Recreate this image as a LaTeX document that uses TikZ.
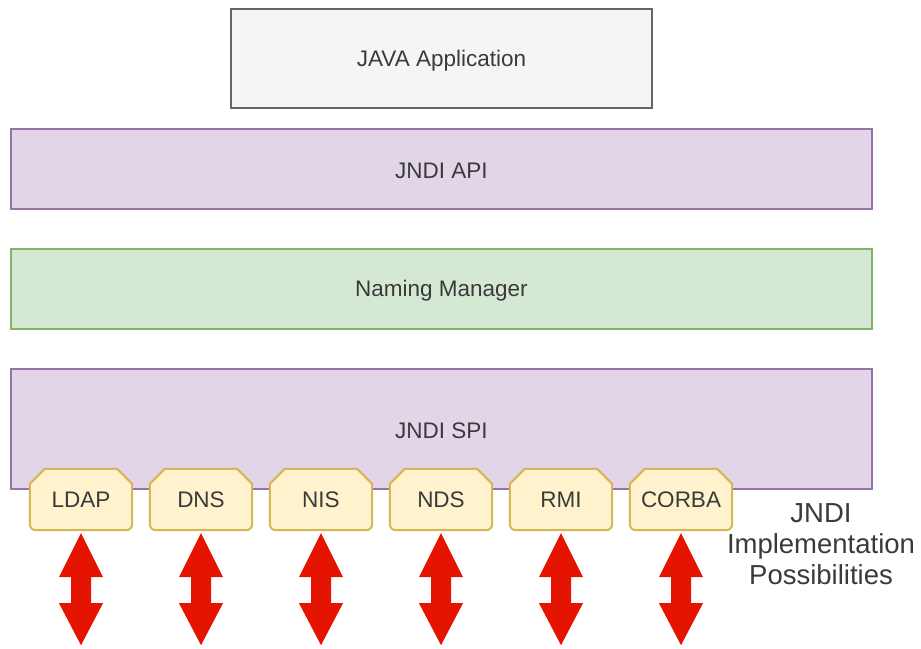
\documentclass[tikz,border=0pt]{standalone}
\usepackage{fontspec}
\setmainfont{Liberation Sans}
\usetikzlibrary{calc}
\definecolor{javaf}{HTML}{F5F5F5}
\definecolor{javad}{HTML}{666666}
\definecolor{purf}{HTML}{E1D5E7}
\definecolor{purd}{HTML}{9673A6}
\definecolor{grnf}{HTML}{D5E8D4}
\definecolor{grnd}{HTML}{82B366}
\definecolor{tabf}{HTML}{FFF2CC}
\definecolor{tabd}{HTML}{D6B656}
\definecolor{arrred}{HTML}{E51400}
\definecolor{txt}{HTML}{3A3A3A}
\tikzset{
  layer/.style={draw, line width=1.2pt, inner sep=0pt, text=txt, font=\fontsize{22.5}{26}\selectfont},
  tabbox/.style={inner sep=0pt, minimum width=102pt, minimum height=61pt, text=txt, font=\fontsize{22.5}{26}\selectfont},
  tabline/.style={draw=tabd, fill=tabf, line width=2pt},
  dblarrow/.style={fill=arrred},
  lbltext/.style={text=txt, yshift=-2pt},
}
\begin{document}
\begin{tikzpicture}[x=1pt,y=-1pt]
\useasboundingbox (0,0) rectangle (921,648);
\node[layer, fill=javaf, draw=javad, minimum width=421pt, minimum height=99pt] (java) at (441.5,58.5) {};
\node[layer, fill=purf, draw=purd, minimum width=861pt, minimum height=80pt] (api) at (441.5,169) {};
\node[layer, fill=grnf, draw=grnd, minimum width=861pt, minimum height=80pt] (nm) at (441.5,289) {};
\node[layer, fill=purf, draw=purd, minimum width=861pt, minimum height=120pt] (spi) at (441.5,429) {};
\node[layer, draw=none, lbltext] (javat) at (java.center) {JAVA Application};
\node[layer, draw=none, lbltext] (apit) at (api.center) {JNDI API};
\node[layer, draw=none, lbltext] (nmt) at (nm.center) {Naming Manager};
\node[layer, draw=none, lbltext] (spit) at (spi.center) {JNDI SPI};
\foreach \i/\t in {0/LDAP,1/DNS,2/NIS,3/NDS,4/RMI,5/CORBA}{
  \node[tabbox] (t\i) at (81+120*\i,499.5) {};
  \draw[tabline] ($(t\i.north west)+(0,15)$) -- ($(t\i.north west)+(15,0)$) -- ($(t\i.north east)+(-15,0)$) -- ($(t\i.north east)+(0,15)$) [rounded corners=6pt] -- (t\i.south east) -- (t\i.south west) [sharp corners] -- cycle;
  \node[tabbox] (l\i) at ($(t\i.center)+(0,0)$) {\t};
  \coordinate (a\i) at ($(t\i.south)+(0,3)$);
  \fill[dblarrow] (a\i) -- ++(22,44) -- ++(-12,0) -- ++(0,26) -- ++(12,0) -- ++(-22,42) -- ++(-22,-42) -- ++(12,0) -- ++(0,-26) -- ++(-12,0) -- cycle;
}
\node[align=center, text=txt, font=\fontsize{27.5}{31}\selectfont] (lbl) at (821,544) {JNDI\\Implementation\\Possibilities};
\end{tikzpicture}
\end{document}
